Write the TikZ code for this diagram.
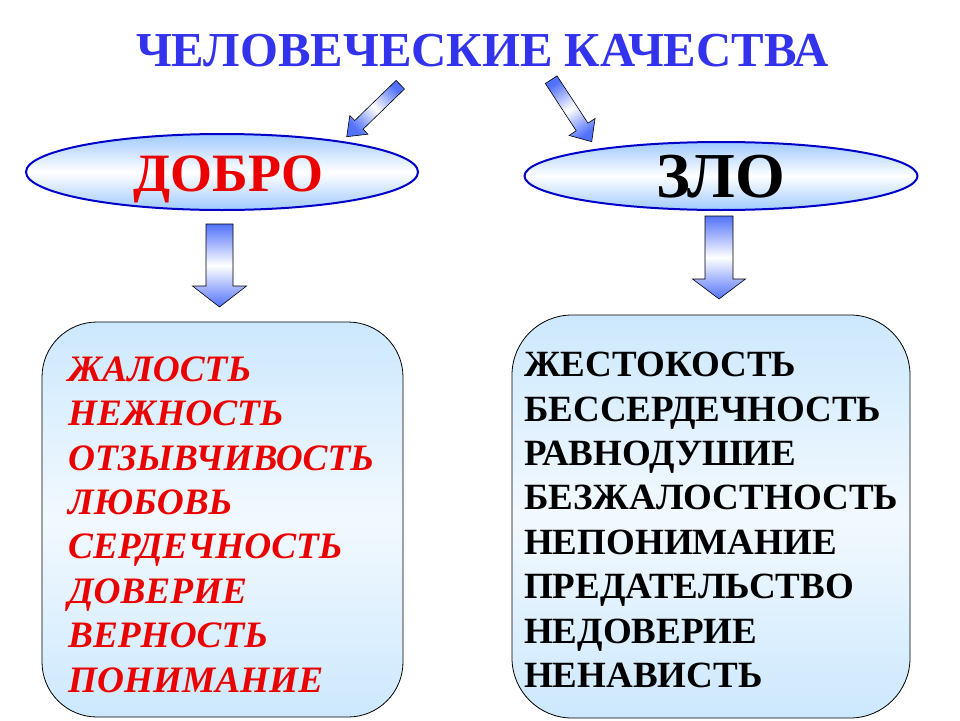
\documentclass[tikz,border=0pt]{standalone}
\usepackage{fontspec}
\setmainfont{Liberation Serif}
\usepackage{tikz}
\usetikzlibrary{shapes.geometric,calc}

\definecolor{titleblue}{RGB}{51,51,238}
\definecolor{rimblue}{RGB}{0,0,200}
\definecolor{ovalblue}{RGB}{160,202,255}
\definecolor{boxblue}{RGB}{204,232,253}
\definecolor{arrowblue}{RGB}{82,114,250}
\definecolor{goodred}{RGB}{235,0,0}

\tikzset{
  oval/.style={ellipse, draw=rimblue, line width=2pt, inner sep=0pt, text depth=0pt,
    top color=ovalblue, bottom color=ovalblue, middle color=white},
  listbox/.style={rectangle, draw=black, line width=0.8pt,
    top color=boxblue, bottom color=boxblue, middle color=boxblue!25},
  listtext/.style={align=left, inner sep=0pt, font=\fontsize{37}{44.4}\selectfont\bfseries},
  goodtext/.style={listtext, text=goodred, font=\fontsize{37.3}{44.4}\selectfont\bfseries\itshape},
  fatarrow/.style={draw=black, line width=0.6pt,
    top color=arrowblue, bottom color=arrowblue, middle color=white}
}

% [shading angle]{from}{to}{shaft}{head}{head length}
\newcommand{\blockarrow}[6][0]{%
  \path[fatarrow, shading angle=#1]
    ($(#2)!#4!90:(#3)$) -- ($(#3)!#6!(#2)!#4!90:(#3)$) -- ($(#3)!#6!(#2)!#5!90:(#3)$)
    -- (#3) -- ($(#3)!#6!(#2)!#5!-90:(#3)$) -- ($(#3)!#6!(#2)!#4!-90:(#3)$)
    -- ($(#2)!#4!-90:(#3)$) -- cycle;}

\begin{document}
\begin{tikzpicture}[x=1pt,y=-1pt]
      \useasboundingbox (0,0) rectangle (960,720);
      % title
      \node[text=titleblue, font=\fontsize{48.8}{56}\selectfont\bfseries] (title) at (482.5,51)
        {ЧЕЛОВЕЧЕСКИЕ КАЧЕСТВА};
      % good
      \node[oval, minimum width=392pt, minimum height=76pt] (good) at (222,172) {};
      \node[text=goodred, inner sep=0pt, text depth=0pt,
        font=\fontsize{54}{60}\selectfont\bfseries] (goodname) at (228.5,174) {ДОБРО};
      \node[listbox, rounded corners=55pt, minimum width=361pt, minimum height=395pt]
        (goodbox) at (222.5,519.5) {};
      \node[goodtext, anchor=west] (goodlist) at (68,524.5)
        {ЖАЛОСТЬ\\НЕЖНОСТЬ\\ОТЗЫВЧИВОСТЬ\\ЛЮБОВЬ\\СЕРДЕЧНОСТЬ\\ДОВЕРИЕ\\ВЕРНОСТЬ\\ПОНИМАНИЕ};
      % evil
      \node[oval, minimum width=393pt, minimum height=68pt,
        font=\fontsize{64}{70}\selectfont\bfseries] (evil) at (721,176) {ЗЛО};
      \node[listbox, rounded corners=60pt, minimum width=398pt, minimum height=403pt]
        (evilbox) at (711,516.5) {};
      \node[listtext, anchor=west] (evillist) at (524,520)
        {ЖЕСТОКОСТЬ\\БЕССЕРДЕЧНОСТЬ\\РАВНОДУШИЕ\\БЕЗЖАЛОСТНОСТЬ\\НЕПОНИМАНИЕ\\ПРЕДАТЕЛЬСТВО\\НЕДОВЕРИЕ\\НЕНАВИСТЬ};
      % arrows
      \coordinate (gooda) at (400.3,84.7);
      \coordinate (goodb) at (346.7,136.7);
      \coordinate (evila) at (551.2,79.7);
      \coordinate (evilb) at (591.7,141.7);
      \coordinate (goodc) at (219.5,224);
      \coordinate (goodd) at (219.5,307);
      \coordinate (evilc) at (719,216);
      \coordinate (evild) at (719,299);
      \blockarrow[-45]{gooda}{goodb}{6pt}{13pt}{17pt}
      \blockarrow[33]{evila}{evilb}{7pt}{15.5pt}{17.6pt}
      \blockarrow{goodc}{goodd}{13.5pt}{27pt}{21pt}
      \blockarrow{evilc}{evild}{14pt}{26.5pt}{20pt}
    \end{tikzpicture}
\end{document}
